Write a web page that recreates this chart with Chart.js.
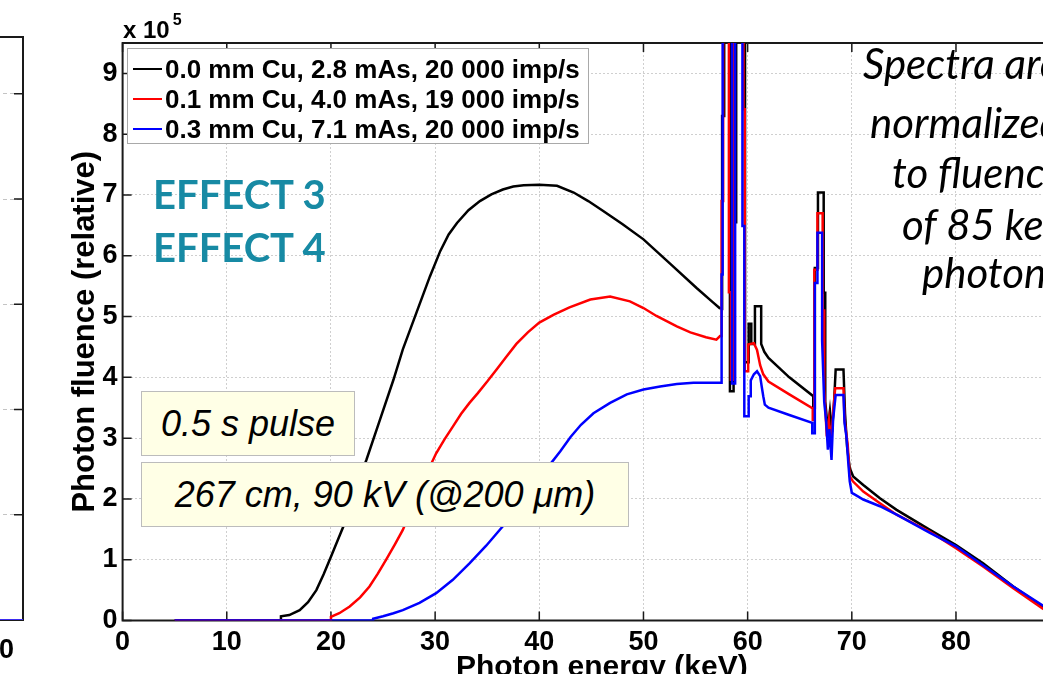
<!DOCTYPE html>
<html>
<head>
<meta charset="utf-8">
<title>Photon fluence spectra</title>
<script src="https://cdn.jsdelivr.net/npm/chart.js@4.4.1/dist/chart.umd.min.js"></script>
<style>
  html, body { margin: 0; padding: 0; background: #fff; overflow: hidden; }
  #page { position: relative; width: 1043px; height: 674px; overflow: hidden; background: #fff; }
  #leftWrap { position: absolute; left: -361px; top: 0; width: 385px; height: 700px; }
  #mainWrap { position: absolute; left: 0; top: 0; width: 1100px; height: 700px; }
  .abs { position: absolute; white-space: nowrap; }
  #expo { left: 123px; top: 18px; font: bold 24px "Liberation Sans", Arial, sans-serif; line-height: 24px; }
  #expo span { font-size: 16px; position: relative; top: -13px; margin-left: 3px; }
  #legend { left: 127px; top: 48px; width: 462px; height: 96px; box-sizing: border-box; border: 1px solid #a9a9a9; background: #fff; }
  .row { position: absolute; left: 0; height: 30px; display: flex; align-items: center; font: bold 26px "Liberation Sans", Arial, sans-serif; color: #000; }
  .swatch { width: 29px; height: 2px; margin-left: 5px; margin-right: 3px; }
  .effect { left: 153px; font: bold 40px Lato, sans-serif; line-height: 40px; color: #178aa4; }
  .note { display: flex; align-items: center; justify-content: center; box-sizing: border-box; background: #ffffe6; border: 1.5px solid #bcbcbc; font: italic 36px "Liberation Sans", Arial, sans-serif; color: #000; }
  .side { font: italic 42px Lato, sans-serif; line-height: 42px; color: #000; }
</style>
</head>
<body>
<div id="page">
  <div id="leftWrap"><canvas id="left"></canvas></div>
  <div id="mainWrap"><canvas id="main"></canvas></div>
  <div id="expo" class="abs">x 10<span>5</span></div>
  <div id="legend" class="abs"></div>
  <div class="abs effect" style="top:174px">EFFECT 3</div>
  <div class="abs effect" style="top:227px">EFFECT 4</div>
  <div class="abs note" style="left:141px;top:391px;width:214px;height:65px">0.5 s pulse</div>
  <div class="abs note" style="left:141px;top:462px;width:488px;height:65px">267 cm, 90 kV (@200 μm)</div>
  <div id="sideText"></div>
</div>
<script>
// photon energy (keV) and relative fluence (x 10^5) for each filtration
const energyBlack = [5, 15.2, 15.2, 16, 17, 17.8, 18.6, 19.3, 20, 20.6, 21.2, 22.3, 23.4, 24.7, 26, 26.9, 28.2, 29.5, 30.5, 31.3, 32.1, 33.2, 34.3, 35.4, 36.5, 37.5, 38.5, 40, 41.7, 43.3, 44.7, 46.1, 48, 50, 52.5, 55.1, 56.7, 57.3,
  57.55, 57.55, 57.75, 57.75, 58.3, 58.3, 58.65, 58.65, 58.9, 58.9, 59.75, 59.75, 60.1, 60.1, 60.35, 60.35, 60.7, 60.7, 61.3, 61.3, 61.6, 62, 64, 66.3,
  66.3, 66.45, 66.45, 66.75, 66.75, 67.3, 67.3, 67.45, 67.45, 67.7, 67.9, 68.1, 68.3, 68.45, 69.2, 69.35, 69.55, 69.8, 70.13, 71.1, 72.7, 74.3, 77.5, 80, 82.6, 85.5, 88.3, 89.5];
const fluenceBlack = [0, 0, 0.07, 0.09, 0.17, 0.3, 0.5, 0.76, 1.05, 1.3, 1.55, 2.15, 2.64, 3.3, 3.96, 4.46, 5.06, 5.66, 6.08, 6.35, 6.54, 6.75, 6.9, 7.01, 7.09, 7.14, 7.16, 7.17, 7.15, 7.04, 6.9, 6.74, 6.52, 6.27, 5.88, 5.47, 5.23, 5.14,
  5.13, 8.3, 8.3, 12, 12, 3.77, 3.77, 6.55, 6.55, 12, 12, 4.25, 4.25, 4.88, 4.88, 4.55, 4.55, 5.17, 5.17, 4.55, 4.42, 4.32, 4.0, 3.69,
  3.5, 3.5, 5.8, 5.8, 7.04, 7.04, 5.39, 5.39, 3.6, 3.14, 3.45, 3.1, 3.6, 4.13, 4.13, 3.4, 2.85, 2.51, 2.37, 2.23, 2.01, 1.82, 1.49, 1.24, 0.94, 0.56, 0.23, 0.1];

const energyRed = [5, 20, 20, 20.8, 21.8, 22.8, 23.7, 24.5, 25.3, 26.1, 26.9, 27.7, 28.5, 29.3, 30.1, 30.9, 31.7, 32.5, 33.3, 34.1, 35, 35.9, 36.8, 37.8, 38.9, 40, 41.4, 42.9, 44.9, 46.8, 48.7, 50, 51.25, 53.2, 54.5, 56, 57, 57.35,
  57.5, 57.5, 57.65, 57.65, 58.2, 58.2, 58.4, 58.4, 58.7, 58.7, 59.6, 59.6, 59.72, 59.72, 60.05, 60.05, 60.6, 60.9, 61.2, 61.5, 62, 64, 66.25,
  66.25, 66.4, 66.4, 66.7, 66.7, 67.2, 67.2, 67.35, 67.35, 67.6, 67.8, 68, 68.2, 68.4, 69.2, 69.3, 69.6, 69.8, 70.1, 71.1, 72.7, 74.3, 77.5, 80, 82.6, 85.5, 88.3, 89.5];
const fluenceRed = [0, 0, 0.06, 0.12, 0.23, 0.38, 0.56, 0.77, 1.0, 1.24, 1.49, 1.82, 2.15, 2.46, 2.75, 2.98, 3.19, 3.4, 3.58, 3.74, 3.93, 4.13, 4.33, 4.55, 4.74, 4.9, 5.03, 5.15, 5.28, 5.33, 5.25, 5.14, 5.01, 4.84, 4.74, 4.66, 4.62, 4.68,
  4.68, 6.9, 6.9, 12, 12, 5.4, 5.4, 3.96, 3.96, 12, 12, 8.41, 8.41, 4.1, 4.1, 4.54, 4.56, 4.45, 4.2, 4.05, 3.93, 3.72, 3.49,
  3.3, 3.3, 5.77, 5.77, 6.7, 6.7, 5.1, 5.1, 3.8, 3.03, 3.3, 2.9, 3.4, 3.82, 3.82, 3.3, 2.9, 2.37, 2.29, 2.12, 1.93, 1.74, 1.46, 1.19, 0.89, 0.53, 0.2, 0.08];

const energyBlue = [5, 24.05, 24.05, 25, 26, 26.9, 28.5, 30.1, 31.7, 33.3, 34.9, 36.5, 38.1, 39.7, 41, 42, 43, 44, 45.2, 46.8, 48.4, 50, 51.6, 53.2, 54.8, 57.5,
  57.5, 57.6, 57.6, 58.5, 58.5, 58.8, 58.8, 59.5, 59.5, 59.68, 59.68, 60.1, 60.1, 60.3, 60.3, 60.6, 60.9, 61.2, 61.35, 61.5, 61.65, 62, 64, 66.2,
  66.2, 66.45, 66.45, 66.7, 66.7, 67.15, 67.15, 67.35, 67.55, 67.7, 67.85, 68.05, 68.2, 68.45, 69.2, 69.3, 69.5, 69.65, 69.8, 70, 70.3, 71.1, 72.7, 74.3, 77.5, 80, 82.6, 85.5, 88.3, 89.5];
const fluenceBlue = [0, 0, 0.03, 0.07, 0.12, 0.17, 0.29, 0.45, 0.67, 0.94, 1.23, 1.55, 1.93, 2.31, 2.56, 2.78, 3.02, 3.22, 3.41, 3.58, 3.72, 3.8, 3.85, 3.89, 3.91, 3.91,
  5.69, 5.69, 12, 12, 3.9, 3.9, 12, 12, 6.49, 6.49, 3.36, 3.36, 3.69, 3.69, 3.95, 4.05, 4.1, 4.02, 3.85, 3.69, 3.55, 3.5, 3.38, 3.25,
  3.08, 3.08, 5.55, 5.55, 6.38, 6.38, 4.6, 3.6, 3.25, 2.81, 3.15, 2.64, 3.3, 3.71, 3.71, 3.25, 3.0, 2.62, 2.29, 2.1, 2.07, 1.99, 1.88, 1.74, 1.44, 1.22, 0.91, 0.56, 0.25, 0.12];

const seriesLabels = ["0.0 mm Cu, 2.8 mAs, 20 000 imp/s", "0.1 mm Cu, 4.0 mAs, 19 000 imp/s", "0.3 mm Cu, 7.1 mAs, 20 000 imp/s"];
const seriesColors = ["#000000", "#ff0000", "#0000ff"];
const xTicks = [0, 10, 20, 30, 40, 50, 60, 70, 80, 90];
const yTicks = [0, 1, 2, 3, 4, 5, 6, 7, 8, 9];

// neighbouring panel, only its right edge is visible on the slide
const leftEnergy = [60, 92];
const leftFluence = [0, 0];
const leftXTicks = [70, 80, 90];
const leftYTicks = [0, 1, 2, 3, 4, 5];

const sideLines = ["Spectra are", "normalized", "to fluence", "of 85 keV", "photons"];

const toPoints = (xs, ys) => xs.map((x, i) => ({ x: x, y: ys[i] }));
const tickFont = { family: "Liberation Sans", weight: "bold", size: 27 };

// MATLAB style box with inward tick marks, drawn under the curves
const axesBox = {
  id: "axesBox",
  beforeDatasetsDraw(chart) {
    const { ctx, chartArea: a, scales: { x, y } } = chart;
    ctx.save();
    ctx.strokeStyle = "#1a1a1a";
    ctx.lineWidth = 1.5;
    ctx.beginPath();
    x.ticks.forEach(t => {
      const p = x.getPixelForValue(t.value);
      ctx.moveTo(p, a.bottom); ctx.lineTo(p, a.bottom - 9);
      ctx.moveTo(p, a.top); ctx.lineTo(p, a.top + 9);
    });
    y.ticks.forEach(t => {
      const p = y.getPixelForValue(t.value);
      ctx.moveTo(a.left, p); ctx.lineTo(a.left + 9, p);
      ctx.moveTo(a.right, p); ctx.lineTo(a.right - 9, p);
    });
    ctx.stroke();
    ctx.lineWidth = 2;
    ctx.strokeRect(a.left, a.top, a.right - a.left, a.bottom - a.top);
    ctx.restore();
  }
};

new Chart(document.getElementById("left"), {
  type: "line",
  data: {
    datasets: [{ data: toPoints(leftEnergy, leftFluence), borderColor: "#3b2bf0", borderWidth: 2, pointRadius: 0 }]
  },
  options: {
    responsive: true,
    maintainAspectRatio: false,
    animation: false,
    layout: { padding: { top: 37, right: 1, left: 0, bottom: 0 } },
    plugins: { legend: { display: false }, tooltip: { enabled: false } },
    scales: {
      x: {
        type: "linear", min: 60, max: 92,
        afterBuildTicks: s => { s.ticks = leftXTicks.map(v => ({ value: v })); },
        afterFit: s => { s.height = 80; },
        grid: { display: false },
        border: { display: false },
        ticks: { font: tickFont, color: "#000", padding: 6, maxRotation: 0, autoSkip: false }
      },
      y: {
        min: 0, max: 5.54,
        afterBuildTicks: s => { s.ticks = leftYTicks.map(v => ({ value: v })); },
        afterFit: s => { s.width = 0; },
        ticks: { display: false },
        grid: { color: "#c4c4c4", drawTicks: false },
        border: { display: false, dash: [4, 3] }
      }
    }
  },
  plugins: [axesBox]
});

const chart = new Chart(document.getElementById("main"), {
  type: "line",
  data: {
    datasets: [
      { label: seriesLabels[0], data: toPoints(energyBlack, fluenceBlack), borderColor: seriesColors[0], order: 3 },
      { label: seriesLabels[1], data: toPoints(energyRed, fluenceRed), borderColor: seriesColors[1], order: 2 },
      { label: seriesLabels[2], data: toPoints(energyBlue, fluenceBlue), borderColor: seriesColors[2], order: 1 }
    ]
  },
  options: {
    responsive: true,
    maintainAspectRatio: false,
    animation: false,
    elements: { point: { radius: 0 }, line: { borderWidth: 2.5, tension: 0 } },
    layout: { padding: { top: 43, right: 19, left: 0, bottom: 0 } },
    plugins: { legend: { display: false }, tooltip: { enabled: false } },
    scales: {
      x: {
        type: "linear", min: 0, max: 92,
        afterBuildTicks: s => { s.ticks = xTicks.map(v => ({ value: v })); },
        afterFit: s => { s.height = 79.5; },
        grid: { color: "#cfcfcf", drawTicks: false },
        border: { display: false, dash: [2, 2] },
        ticks: { font: tickFont, color: "#000", padding: 6, maxRotation: 0, autoSkip: false },
        title: {
          display: true, text: "Photon energy (keV)", color: "#000",
          font: { family: "Liberation Sans", weight: "bold", size: 30 },
          padding: { top: 0, bottom: 14 }
        }
      },
      y: {
        min: 0, max: 9.5,
        afterBuildTicks: s => { s.ticks = yTicks.map(v => ({ value: v })); },
        afterFit: s => { s.width = 122.6; },
        grid: { color: "#cfcfcf", drawTicks: false },
        border: { display: false, dash: [2, 2] },
        ticks: { font: tickFont, color: "#000", padding: 5 },
        title: {
          display: true, text: "Photon fluence (relative)", color: "#000",
          font: { family: "Liberation Sans", weight: "bold", size: 31 },
          padding: { top: 67, bottom: 0 }
        }
      }
    }
  },
  plugins: [axesBox]
});

// legend rows built from the dataset labels and colours
const legend = document.getElementById("legend");
chart.data.datasets.forEach((ds, i) => {
  const row = document.createElement("div");
  row.className = "row";
  row.style.top = (5 + i * 30) + "px";
  const sw = document.createElement("div");
  sw.className = "swatch";
  sw.style.background = ds.borderColor;
  const tx = document.createElement("span");
  tx.textContent = ds.label;
  row.appendChild(sw);
  row.appendChild(tx);
  legend.appendChild(row);
});

// italic note at the right edge (cut by the slide border)
const sideLeft = [863, 870, 892, 902, 922];
const sideBaseline = [79, 138, 188, 240, 288];
const side = document.getElementById("sideText");
sideLines.forEach((t, i) => {
  const d = document.createElement("div");
  d.className = "abs side";
  d.style.left = sideLeft[i] + "px";
  d.style.top = (sideBaseline[i] - 37) + "px";
  d.textContent = t;
  side.appendChild(d);
});
</script>
</body>
</html>
